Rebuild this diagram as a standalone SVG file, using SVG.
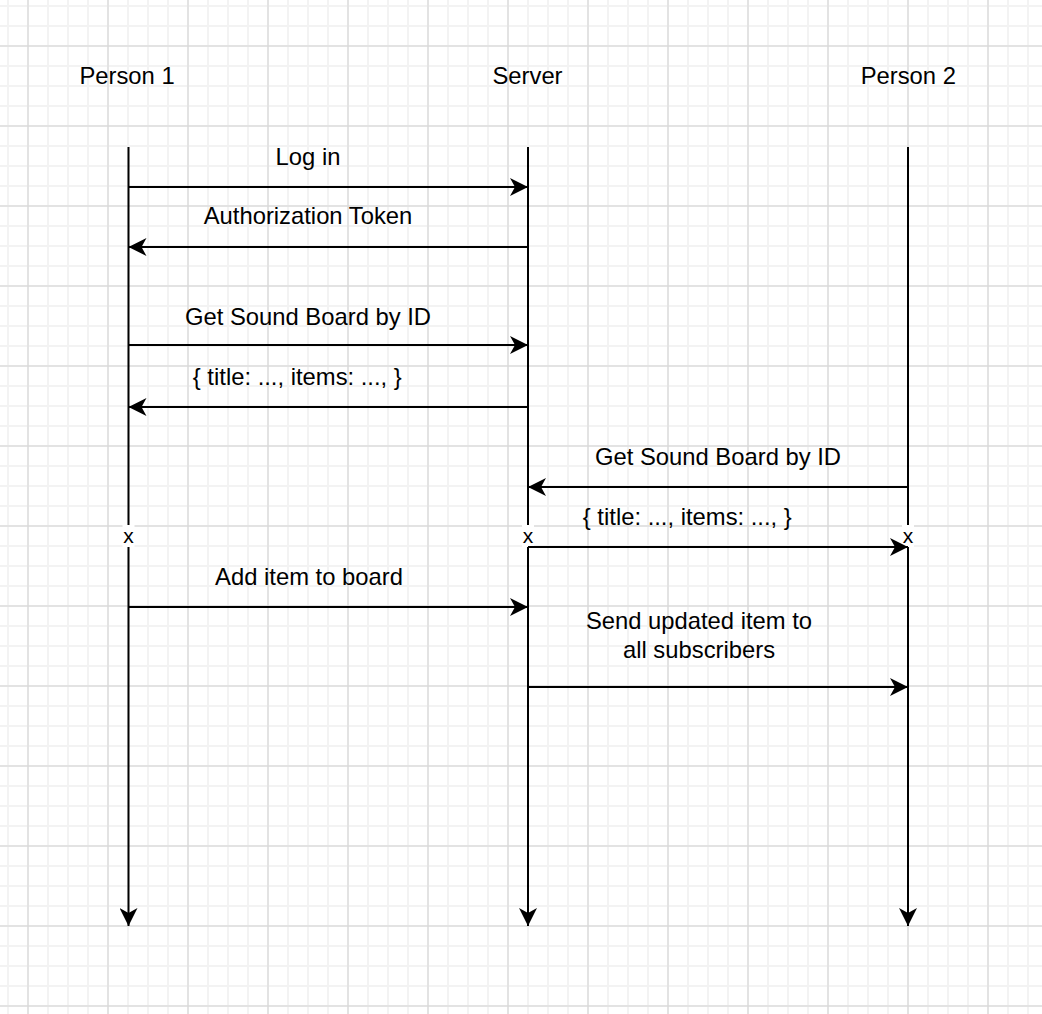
<svg xmlns="http://www.w3.org/2000/svg" width="1042" height="1014" viewBox="0 0 1042 1014">
<defs>
<pattern id="minor" patternUnits="userSpaceOnUse" x="0" y="0" width="20" height="20">
<rect x="7" y="0" width="2" height="20" fill="#f3f3f3"/>
<rect x="0" y="5" width="20" height="2" fill="#f3f3f3"/>
</pattern>
<pattern id="major" patternUnits="userSpaceOnUse" x="0" y="0" width="80" height="80">
<rect x="27.5" y="0" width="1" height="80" fill="#d4d4d4"/>
<rect x="0" y="45.5" width="80" height="1" fill="#d4d4d4"/>
</pattern>
<marker id="arr" viewBox="-18 -9 18 18" refX="0" refY="0" markerWidth="18" markerHeight="18" markerUnits="userSpaceOnUse" orient="auto">
<path d="M0,0 L-18,-9 L-13,0 L-18,9 Z" fill="#000"/>
</marker>
<style>
text{font-family:"Liberation Sans",Arial,Helvetica,sans-serif;font-size:23.8px;fill:#000;text-anchor:middle}
.ln{stroke:#000;stroke-width:2;fill:none;marker-end:url(#arr)}
.xm{font-size:21px}
</style>
</defs>
<rect width="1042" height="1014" fill="#fff"/>
<rect width="1042" height="1014" fill="url(#minor)"/>
<rect width="1042" height="1014" fill="url(#major)"/>

<g id="person1">
<text x="127" y="84.3">Person 1</text>
<line class="ln" x1="128.5" y1="147" x2="128.5" y2="926"/>
</g>
<g id="server">
<text x="527.5" y="84.3">Server</text>
<line class="ln" x1="528" y1="147" x2="528" y2="926"/>
</g>
<g id="person2">
<text x="908.3" y="84.3">Person 2</text>
<line class="ln" x1="908" y1="147" x2="908" y2="926"/>
</g>

<g id="destroy-bg" fill="#fff">
<rect x="122.5" y="525" width="12" height="22"/>
<rect x="522" y="525" width="12" height="22"/>
<rect x="902" y="525" width="12" height="22"/>
</g>

<g id="connectors">
<line class="ln" x1="128.5" y1="187" x2="528" y2="187"/>
<text x="308" y="165">Log in</text>
<line class="ln" x1="528" y1="247" x2="128.5" y2="247"/>
<text x="308" y="224.3">Authorization Token</text>
<line class="ln" x1="128.5" y1="345" x2="528" y2="345"/>
<text x="308" y="325">Get Sound Board by ID</text>
<line class="ln" x1="528" y1="407" x2="128.5" y2="407"/>
<text x="297.3" y="385">{ title: ..., items: ..., }</text>
<line class="ln" x1="908" y1="487" x2="528" y2="487"/>
<text x="718" y="465">Get Sound Board by ID</text>
<line class="ln" x1="528" y1="547" x2="908" y2="547"/>
<text x="687.3" y="525">{ title: ..., items: ..., }</text>
<line class="ln" x1="128.5" y1="607" x2="528" y2="607"/>
<text x="309" y="585">Add item to board</text>
<line class="ln" x1="528" y1="687" x2="908" y2="687"/>
<text x="699" y="629">Send updated item to</text>
<text x="699" y="658">all subscribers</text>
</g>

<g id="destroy-marks">
<text class="xm" x="128.5" y="543">x</text>
<text class="xm" x="528" y="543">x</text>
<text class="xm" x="908" y="543">x</text>
</g>
</svg>
